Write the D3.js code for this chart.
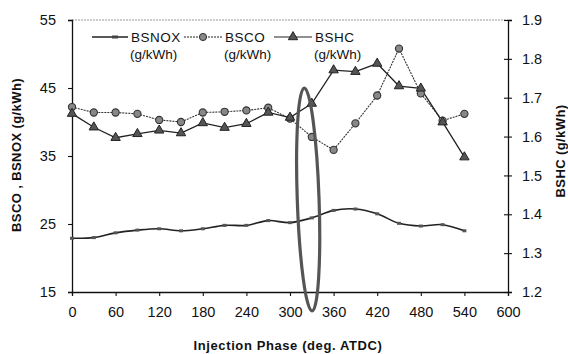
<!DOCTYPE html>
<html><head><meta charset="utf-8">
<script src="https://cdn.jsdelivr.net/npm/d3@7"></script>
<style>
body{margin:0;background:#fff;}
svg text{font-family:"Liberation Sans",Arial,sans-serif;fill:#111;}
</style></head>
<body><svg id="c" width="568" height="354"></svg>
<script>
const phases = [0,30,60,90,120,150,180,210,240,270,300,330,360,390,420,450,480,510,540];
const bsnox = [22.9,23.0,23.7,24.1,24.3,24.0,24.3,24.8,24.8,25.5,25.2,25.9,27.0,27.2,26.5,25.1,24.7,24.9,24.0];
const bsco  = [42.2,41.4,41.4,41.2,40.3,40.0,41.4,41.5,41.7,42.1,40.5,37.8,35.9,39.8,43.9,50.8,44.2,40.2,41.2];
const bshc  = [1.659,1.624,1.597,1.607,1.616,1.609,1.635,1.623,1.633,1.662,1.649,1.685,1.771,1.767,1.788,1.730,1.724,1.637,1.547];
const xTicks = [0,60,120,180,240,300,360,420,480,540,600];
const leftTicks = [15,25,35,45,55];
const rightTicks = [1.2,1.3,1.4,1.5,1.6,1.7,1.8,1.9];
const legendNames = ["BSNOX","BSCO","BSHC"];
const unitLabel = "(g/kWh)";
const xTitle = "Injection Phase (deg. ATDC)";
const leftTitle = "BSCO , BSNOX (g/kWh)";
const rightTitle = "BSHC (g/kWh)";
// highlight ellipse: center phase, center left-axis value, half width (deg), half height (left units)
const ellipse = {cx:325, cy:28.6, rx:15, ry:16.4};

const svg = d3.select("#c");
const L=72,R=508,T=20,B=292;
const x = d3.scaleLinear().domain([0,600]).range([L,R]);
const yL = d3.scaleLinear().domain([15,55]).range([B,T]);
const yR = d3.scaleLinear().domain([1.2,1.9]).range([B,T]);

// top frame line
svg.append("line").attr("x1",L).attr("x2",R).attr("y1",T).attr("y2",T)
  .attr("stroke","#999").attr("stroke-width",1).attr("stroke-dasharray","2,1");

const ax = svg.append("g").attr("transform",`translate(0,${B})`)
  .call(d3.axisBottom(x).tickValues(xTicks).tickSize(4).tickPadding(11).tickFormat(d3.format("d")));
const ayl = svg.append("g").attr("transform",`translate(${L},0)`)
  .call(d3.axisLeft(yL).tickValues(leftTicks).tickSize(4).tickPadding(12).tickFormat(d3.format("d")));
const ayr = svg.append("g").attr("transform",`translate(${R},0)`)
  .call(d3.axisRight(yR).tickValues(rightTicks).tickSize(4).tickPadding(10).tickFormat(d3.format(".1f")));
[ax,ayl,ayr].forEach(g=>{
  g.select(".domain").attr("stroke","#111").attr("stroke-width",1.3);
  g.selectAll(".tick line").attr("stroke","#111").attr("stroke-width",1.1);
  g.selectAll(".tick text").attr("font-size",14.5).attr("fill","#111")
   .style("font-family","'Liberation Sans',Arial,sans-serif");
});
ayr.selectAll(".tick line").attr("x1",-4);
ax.selectAll(".tick").filter(d=>d===0).select("line").remove();

// series
const nox = phases.map((p,i)=>[p,bsnox[i]]);
const co = phases.map((p,i)=>[p,bsco[i]]);
const hc = phases.map((p,i)=>[p,bshc[i]]);

svg.append("path").datum(nox)
  .attr("d",d3.line().x(d=>x(d[0])).y(d=>yL(d[1])).curve(d3.curveCatmullRom))
  .attr("fill","none").attr("stroke","#222").attr("stroke-width",1.6);
svg.append("path").datum(co)
  .attr("d",d3.line().x(d=>x(d[0])).y(d=>yL(d[1])))
  .attr("fill","none").attr("stroke","#333").attr("stroke-width",1.1).attr("stroke-dasharray","2,1");
svg.append("path").datum(hc)
  .attr("d",d3.line().x(d=>x(d[0])).y(d=>yR(d[1])))
  .attr("fill","none").attr("stroke","#222").attr("stroke-width",1.3);

const tri = d3.symbol().type(d3.symbolTriangle).size(38);

svg.append("g").selectAll("rect").data(nox).join("rect")
  .attr("x",d=>x(d[0])-2).attr("y",d=>yL(d[1])-1.5).attr("width",4).attr("height",3)
  .attr("fill","#555");
svg.append("g").selectAll("circle").data(co).join("circle")
  .attr("cx",d=>x(d[0])).attr("cy",d=>yL(d[1])).attr("r",3.6)
  .attr("fill","#888").attr("stroke","#333").attr("stroke-width",1.1);
svg.append("g").selectAll("path").data(hc).join("path")
  .attr("d",tri).attr("transform",d=>`translate(${x(d[0])},${yR(d[1])})`)
  .attr("fill","#555").attr("stroke","#222").attr("stroke-width",1);

// ellipse highlight
svg.append("ellipse")
  .attr("cx",x(ellipse.cx)).attr("cy",yL(ellipse.cy))
  .attr("rx",x(ellipse.cx+ellipse.rx)-x(ellipse.cx))
  .attr("ry",yL(ellipse.cy-ellipse.ry)-yL(ellipse.cy))
  .attr("transform",`rotate(-2,${x(ellipse.cx)},${yL(ellipse.cy)})`)
  .attr("fill","none").attr("stroke","#555").attr("stroke-width",3.2);

// legend
const lg = svg.append("g");
const legX = [92,184,274];
const legW = [36,38,38];
legendNames.forEach((n,i)=>{
  const x0=legX[i], y0=37;
  lg.append("line").attr("x1",x0).attr("x2",x0+legW[i]).attr("y1",y0).attr("y2",y0)
    .attr("stroke","#222").attr("stroke-width",i===0?1.4:1).attr("stroke-dasharray",i===1?"2,1":null);
  const mx = x0+legW[i]/2;
  if(i===0) lg.append("rect").attr("x",mx+2).attr("y",y0-1.5).attr("width",6).attr("height",3).attr("fill","#444");
  if(i===1) lg.append("circle").attr("cx",mx).attr("cy",y0).attr("r",3.6).attr("fill","#888").attr("stroke","#333");
  if(i===2) lg.append("path").attr("d",tri).attr("transform",`translate(${mx},${y0})`).attr("fill","#555").attr("stroke","#222");
  lg.append("text").attr("x",x0+legW[i]+3).attr("y",y0+5).attr("font-size",13.5).attr("letter-spacing","0.5").text(n);
  lg.append("text").attr("x",x0+legW[i]+2).attr("y",y0+22).attr("font-size",13.5).text(unitLabel);
});

// titles
svg.append("text").attr("x",288).attr("y",350).attr("text-anchor","middle")
  .attr("font-size",13).attr("font-weight","bold").attr("letter-spacing","0.6").text(xTitle);
svg.append("text").attr("transform","translate(21,155) rotate(-90)").attr("text-anchor","middle")
  .attr("font-size",13).attr("font-weight","bold").attr("letter-spacing","0.4").text(leftTitle);
svg.append("text").attr("transform","translate(565,151) rotate(-90)").attr("text-anchor","middle")
  .attr("font-size",13).attr("font-weight","bold").attr("letter-spacing","0.4").text(rightTitle);
</script></body></html>
